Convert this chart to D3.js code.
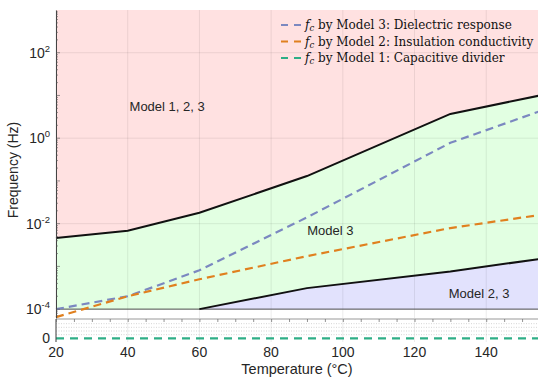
<!DOCTYPE html>
<html>
<head>
<meta charset="utf-8">
<script src="https://cdn.jsdelivr.net/npm/d3@7"></script>
<style>
  body { margin: 0; background: #fff; }
  text { font-family: "Liberation Sans", Arial, sans-serif; fill: #262626; }
  .legend text { font-family: "DejaVu Serif", "Liberation Serif", serif; fill: #111; }
</style>
</head>
<body>
<div id="chart"></div>
<script>
// values
const temps = [20, 40, 60, 90, 130, 155];
const upperBound = [4.6e-3, 6.8e-3, 1.8e-2, 0.13, 3.7, 10];     // top of Model 3 region
const lowerTemps = [60, 90, 130, 155];
const lowerBound = [1e-4, 3.1e-4, 7.6e-4, 1.5e-3];              // bottom of Model 3 region
const model3 = [1.0e-4, 2.0e-4, 8.1e-4, 1.4e-2, 0.78, 4.3];     // dielectric response
const model2 = [6.5e-5, 2.0e-4, 5.0e-4, 1.74e-3, 7.9e-3, 1.6e-2]; // insulation conductivity
const model1 = [0, 0, 0, 0, 0, 0];                                // capacitive divider
const xTicks = [20, 40, 60, 80, 100, 120, 140];
const yTicks = [1e-4, 1e-2, 1, 1e2];
const legendLabels = [
  ["Model 3: Dielectric response", "#7b88c0"],
  ["Model 2: Insulation conductivity", "#e0801f"],
  ["Model 1: Capacitive divider", "#2eae86"]
];
const regionLabels = [
  {text: "Model 1, 2, 3", t: 51, f: 5.1},
  {text: "Model 3", t: 96.5, f: 6.4e-3},
  {text: "Model 2, 3", t: 138, f: 2.2e-4}
];

const width = 538, height = 377;
const margin = {left: 56, top: 10};
const mainBottom = 318;
const lowTop = 320, lowBottom = 342;

const svg = d3.select("#chart").append("svg")
  .attr("width", width).attr("height", height);

const x = d3.scaleLinear().domain([20, 155]).range([margin.left, 540]);
const y = d3.scaleLog().domain([6.2e-5, 1e3]).range([mainBottom, margin.top]);
const y0 = d3.scaleLinear().domain([-0.2, 1]).range([lowBottom, lowTop]);

const pts = (ts, vs) => ts.map((t, i) => [x(t), y(vs[i])]);
const line = d3.line();

// red region: everything above the upper boundary
let red = pts(temps, upperBound);
red.push([x(155), y(1e3)], [x(20), y(1e3)]);
svg.append("path").attr("d", line(red) + "Z").attr("fill", "#ffe1e1");

// green region: between upper boundary and lower boundary / 1e-4 floor
let green = pts(temps, upperBound)
  .concat(pts(lowerTemps, lowerBound).reverse())
  .concat([[x(20), y(1e-4)]]);
svg.append("path").attr("d", line(green) + "Z").attr("fill", "#e2ffe2");

// blue region: below the lower boundary, down to 1e-4
let blue = pts(lowerTemps, lowerBound);
blue.push([x(155), y(1e-4)], [x(60), y(1e-4)]);
svg.append("path").attr("d", line(blue) + "Z").attr("fill", "#e2e2fd");

// grid
const grid = svg.append("g").attr("stroke", "#000").attr("stroke-opacity", 0.08).attr("stroke-width", 1);
xTicks.forEach(t => {
  grid.append("line").attr("x1", x(t)).attr("x2", x(t)).attr("y1", margin.top).attr("y2", mainBottom);
  grid.append("line").attr("x1", x(t)).attr("x2", x(t)).attr("y1", lowTop).attr("y2", lowBottom);
});
yTicks.forEach(v => {
  grid.append("line").attr("x1", margin.left).attr("x2", width).attr("y1", y(v)).attr("y2", y(v));
});

// lower panel dotted minor grid
[0.2, 0.4, 0.6, 0.8].forEach(v => {
  svg.append("line").attr("x1", margin.left).attr("x2", width)
    .attr("y1", y0(v)).attr("y2", y0(v))
    .attr("stroke", "#bbb").attr("stroke-width", 0.6).attr("stroke-dasharray", "1,1.5");
});

// 1e-4 floor line
svg.append("line").attr("x1", margin.left).attr("x2", width)
  .attr("y1", y(1e-4)).attr("y2", y(1e-4))
  .attr("stroke", "#555").attr("stroke-width", 1);

// region boundaries
svg.append("path").attr("d", line(pts(temps, upperBound)))
  .attr("fill", "none").attr("stroke", "#111").attr("stroke-width", 2);
svg.append("path").attr("d", line(pts(lowerTemps, lowerBound)))
  .attr("fill", "none").attr("stroke", "#111").attr("stroke-width", 2);

// model curves
svg.append("path").attr("d", line(pts(temps, model3)))
  .attr("fill", "none").attr("stroke", legendLabels[0][1]).attr("stroke-width", 2.2).attr("stroke-dasharray", "8,5");
svg.append("path").attr("d", line(pts(temps, model2)))
  .attr("fill", "none").attr("stroke", legendLabels[1][1]).attr("stroke-width", 2.2).attr("stroke-dasharray", "8,5");
svg.append("path").attr("d", line(temps.map((t, i) => [x(t), y0(model1[i])])))
  .attr("fill", "none").attr("stroke", legendLabels[2][1]).attr("stroke-width", 2.2).attr("stroke-dasharray", "8,6");

// region labels
regionLabels.forEach(d => {
  svg.append("text").attr("x", x(d.t)).attr("y", y(d.f))
    .attr("text-anchor", "middle").attr("dominant-baseline", "middle")
    .attr("font-size", 13).text(d.text);
});

// left axis (log) with minor ticks
const yAxis = d3.axisLeft(y).tickValues(yTicks).tickSize(0).tickFormat("");
svg.append("g").attr("transform", `translate(${margin.left},0)`).call(yAxis)
  .call(g => g.select(".domain").attr("stroke", "#444"));
const minor = [];
for (let e = -5; e < 3; e++) for (let m = 1; m < 10; m++) {
  const v = m * Math.pow(10, e);
  if (v >= 6.2e-5 && v <= 1e3) minor.push(v);
}
svg.append("g").selectAll("line").data(minor).join("line")
  .attr("x1", margin.left).attr("x2", d => margin.left + (Math.abs(Math.log10(d) % 1) < 1e-9 ? 4 : 2))
  .attr("y1", d => y(d)).attr("y2", d => y(d))
  .attr("stroke", "#555").attr("stroke-width", 0.6);

yTicks.forEach(v => {
  const t = svg.append("text").attr("x", 50).attr("y", y(v) + 5)
    .attr("text-anchor", "end").attr("font-size", 14);
  t.append("tspan").text("10");
  t.append("tspan").attr("dy", -6).attr("font-size", 9.5).text(Math.round(Math.log10(v)));
});

// lower panel axes
svg.append("line").attr("x1", margin.left).attr("x2", width).attr("y1", lowTop - 1).attr("y2", lowTop - 1)
  .attr("stroke", "#999").attr("stroke-width", 1);
svg.append("line").attr("x1", margin.left).attr("x2", margin.left).attr("y1", lowTop - 1).attr("y2", lowBottom)
  .attr("stroke", "#444").attr("stroke-width", 1);
const xAxis = d3.axisBottom(x).tickValues(d3.range(20, 156, 5)).tickSize(3).tickFormat("");
svg.append("g").attr("transform", `translate(0,${lowTop - 1})`).call(xAxis)
  .call(g => g.select(".domain").remove())
  .call(g => g.selectAll(".tick line").attr("stroke", "#666").attr("stroke-width", 0.7));
svg.append("text").attr("x", 50).attr("y", y0(0) + 5).attr("text-anchor", "end")
  .attr("font-size", 14).text("0");

xTicks.forEach(t => {
  svg.append("text").attr("x", x(t)).attr("y", 357).attr("text-anchor", "middle")
    .attr("font-size", 14).text(t);
});

// axis titles
svg.append("text").attr("x", 297).attr("y", 374).attr("text-anchor", "middle")
  .attr("font-size", 14.5).text("Temperature (°C)");
svg.append("text").attr("transform", "translate(18,170) rotate(-90)")
  .attr("text-anchor", "middle").attr("font-size", 14).text("Frequency (Hz)");

// legend
const legend = svg.append("g").attr("class", "legend");
legendLabels.forEach((d, i) => {
  const ly = 25 + i * 16.5;
  legend.append("line").attr("x1", 281).attr("x2", 303).attr("y1", ly).attr("y2", ly)
    .attr("stroke", d[1]).attr("stroke-width", 2).attr("stroke-dasharray", "7,6");
  const t = legend.append("text").attr("x", 305).attr("y", ly + 4).attr("font-size", 12);
  t.append("tspan").attr("font-style", "italic").text("f");
  t.append("tspan").attr("dy", 2).attr("font-size", 8.5).attr("font-style", "italic").text("c");
  t.append("tspan").attr("dy", -2).text(" by " + d[0]);
});
</script>
</body>
</html>
